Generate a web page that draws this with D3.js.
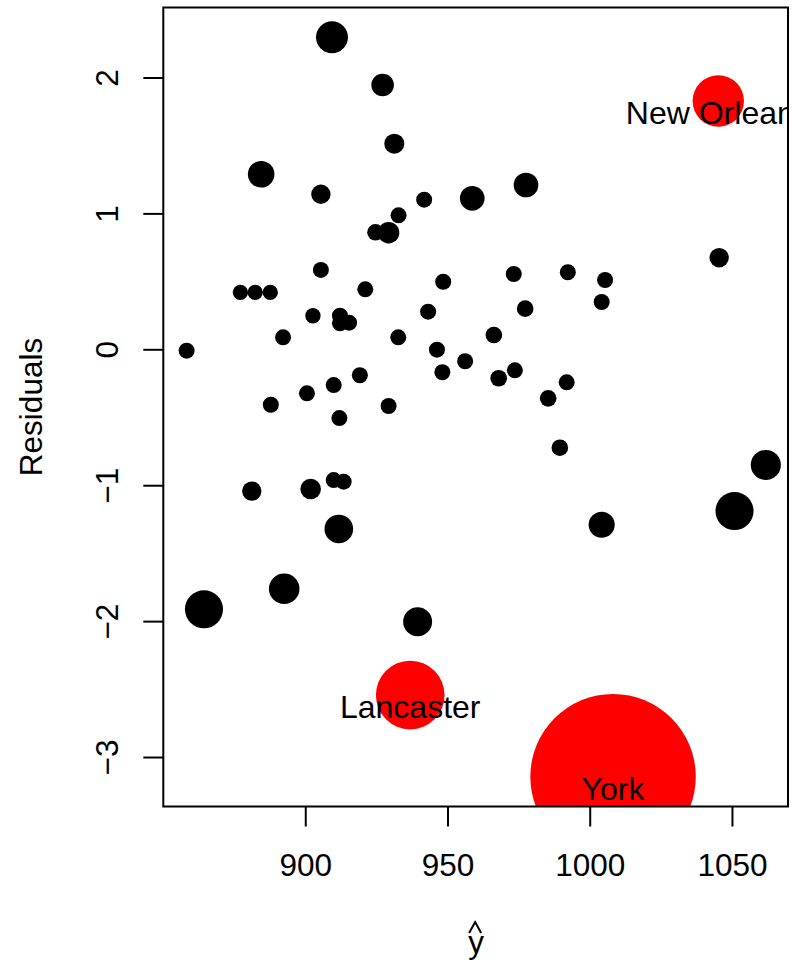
<!DOCTYPE html>
<html><head><meta charset="utf-8">
<script src="https://cdn.jsdelivr.net/npm/d3@7"></script>
<style>
body{margin:0;background:#fff}
svg{display:block}
text{font-family:"Liberation Sans",Arial,Helvetica,sans-serif;fill:#000}
</style>
</head><body><svg id="c" width="798" height="963"></svg>
<script>
// ---- data ----
const fittedX = [909.4,927.2,931.3,884.5,905.5,941.8,958.7,932.8,924.7,929.3,
  905.5,948.5,977.6,1045.5,973.3,992.3,1005.4,858.3,877.2,882.4,
  887.7,921.1,902.7,912.2,912.2,915.4,892.2,932.7,943.2,946.3,
  956.2,948.2,919.2,910.0,900.6,887.9,929.3,912.0,910.0,913.5,
  881.2,901.9,911.8,1004.2,977.3,966.3,973.7,968.0,991.9,985.4,
  989.5,1061.9,1050.9,1004.2,864.4,892.6,939.5];
const residualY = [2.296,1.945,1.513,1.288,1.141,1.101,1.111,0.986,0.861,0.858,
  0.584,0.497,1.209,0.674,0.554,0.567,0.510,-0.010,0.419,0.419,
  0.419,0.441,0.247,0.247,0.191,0.196,0.088,0.088,0.277,-0.003,
  -0.088,-0.169,-0.191,-0.263,-0.324,-0.408,-0.417,-0.506,-0.962,-0.974,
  -1.043,-1.028,-1.322,0.348,0.299,0.105,-0.155,-0.213,-0.243,-0.361,
  -0.724,-0.851,-1.190,-1.291,-1.913,-1.762,-2.004];
const pointCex = [2.00,1.41,1.25,1.66,1.21,1.00,1.54,1.00,1.04,1.34,
  1.00,1.00,1.54,1.21,1.00,1.00,1.00,1.00,0.96,0.96,
  0.96,1.00,0.96,1.00,1.00,1.00,1.00,1.00,1.00,1.00,
  1.00,1.00,1.00,1.00,1.00,1.00,1.00,1.00,1.00,1.00,
  1.21,1.29,1.79,1.00,1.04,1.04,1.00,1.04,1.00,1.04,
  1.04,1.88,2.38,1.63,2.38,1.91,1.81];
const highlightNames = ["New Orleans","Lancaster","York"];
const highlightX = [1045.2,936.9,1008.2];
const highlightY = [1.827,-2.544,-3.145];
const highlightCex = [3.21,4.29,10.34];
const xTicks = [900,950,1000,1050];
const yTicks = [-3,-2,-1,0,1,2];
const xLabel = "y";
const yLabel = "Residuals";

(function () {
// ---- layout ----
const W = 798, H = 963;
const pL = 163.3, pR = 788, pT = 7.5, pB = 806.5;
const FS = 31.5, FSL = 32;

const x = d3.scaleLinear().domain([850.1, 1069.7]).range([pL, pR]);
const y = d3.scaleLinear().domain([-3.364, 2.515]).range([pB, pT]);
const r = d3.scaleLinear().domain([0, 1]).range([0, 8]);

const svg = d3.select("#c");
svg.append("rect").attr("width", W).attr("height", H).attr("fill", "#fff");

svg.append("defs").append("clipPath").attr("id", "plotclip")
  .append("rect").attr("x", pL).attr("y", pT)
  .attr("width", pR - pL).attr("height", pB - pT);

const plot = svg.append("g").attr("clip-path", "url(#plotclip)");

const pts = fittedX.map((v, i) => ({x: v, y: residualY[i], c: pointCex[i]}));
plot.selectAll("circle.pt").data(pts).enter().append("circle")
  .attr("class", "pt")
  .attr("cx", d => x(d.x)).attr("cy", d => y(d.y)).attr("r", d => r(d.c))
  .attr("fill", "#000");

const hl = highlightNames.map((n, i) => ({n, x: highlightX[i], y: highlightY[i], c: highlightCex[i]}));
plot.selectAll("circle.hl").data(hl).enter().append("circle")
  .attr("class", "hl")
  .attr("cx", d => x(d.x)).attr("cy", d => y(d.y)).attr("r", d => r(d.c))
  .attr("fill", "#ff0000");
plot.selectAll("text.hl").data(hl).enter().append("text")
  .attr("class", "hl")
  .attr("x", d => x(d.x)).attr("y", d => y(d.y) + 0.72 * FSL)
  .attr("text-anchor", "middle").attr("font-size", FSL)
  .text(d => d.n);

// ---- axes ----
const gx = svg.append("g").attr("transform", `translate(0,${pB})`)
  .call(d3.axisBottom(x).tickValues(xTicks).tickSize(20).tickFormat(d3.format("d")));
gx.select(".domain").remove();
gx.selectAll(".tick line").attr("stroke", "#000").attr("stroke-width", 2);
gx.selectAll(".tick text").attr("y", 69.5).attr("dy", null)
  .attr("font-size", FS).attr("font-family", null).attr("fill", "#000");

const gy = svg.append("g").attr("transform", `translate(${pL},0)`)
  .call(d3.axisLeft(y).tickValues(yTicks).tickSize(20)
    .tickFormat(d => d < 0 ? "\u2212" + Math.abs(d) : String(d)));
gy.select(".domain").remove();
gy.selectAll(".tick line").attr("stroke", "#000").attr("stroke-width", 2);
gy.selectAll(".tick text")
  .attr("transform", "rotate(-90)")
  .attr("x", 0).attr("y", -45).attr("dy", null)
  .attr("text-anchor", "middle")
  .attr("font-size", FS).attr("font-family", null).attr("fill", "#000");

// box
svg.append("rect").attr("x", pL).attr("y", pT)
  .attr("width", pR - pL).attr("height", pB - pT)
  .attr("fill", "none").attr("stroke", "#000").attr("stroke-width", 2);

// axis titles
const cxMid = (pL + pR) / 2, cyMid = (pT + pB) / 2;
svg.append("text").attr("x", cxMid + 0.5).attr("y", 953)
  .attr("text-anchor", "middle").attr("font-size", FS).text(xLabel);
svg.append("path")
  .attr("d", `M${cxMid - 6.5},933 L${cxMid - 0.5},922 L${cxMid + 5.5},933`)
  .attr("fill", "none").attr("stroke", "#000").attr("stroke-width", 2);
svg.append("text")
  .attr("transform", `translate(41.5,${cyMid}) rotate(-90)`)
  .attr("text-anchor", "middle").attr("font-size", FS).text(yLabel);
})();
</script>
</body></html>
